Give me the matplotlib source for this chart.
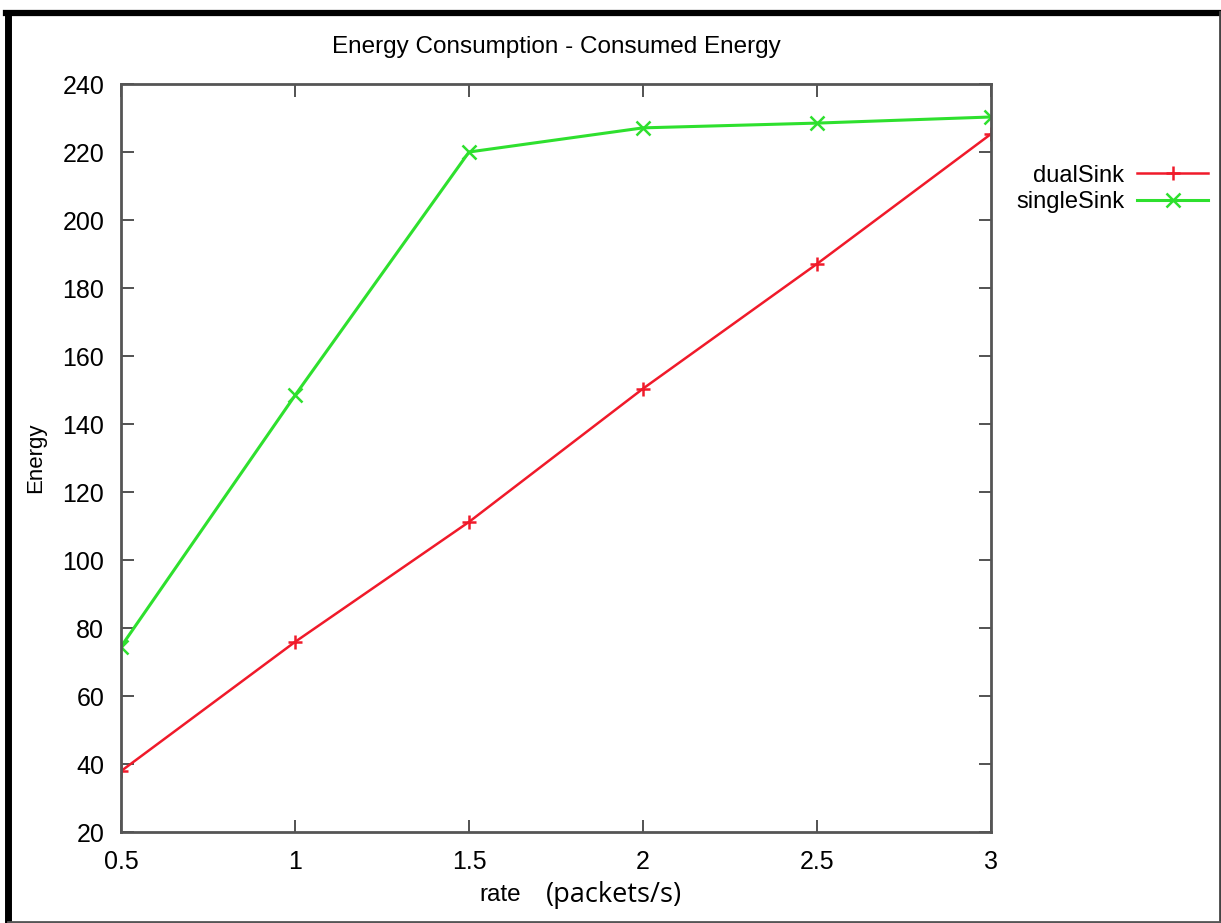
import matplotlib
matplotlib.use("Agg")
from matplotlib import pyplot as plt
from matplotlib.lines import Line2D

plt.rcParams["font.family"] = ["Liberation Sans", "DejaVu Sans"]

rate = [0.5, 1, 1.5, 2, 2.5, 3]
dual_sink = [37.9, 75.9, 111.2, 150.4, 187.1, 225.3]
single_sink = [74.5, 148.4, 220.0, 227.1, 228.5, 230.3]

x_ticks = [0.5, 1, 1.5, 2, 2.5, 3]
x_tick_labels = ["0.5", "1", "1.5", "2", "2.5", "3"]
y_ticks = [20, 40, 60, 80, 100, 120, 140, 160, 180, 200, 220, 240]

W, H = 1221, 923
fig = plt.figure(figsize=(W / 100, H / 100), dpi=100)
ax = fig.add_axes([121 / W, 1 - 832 / H, (991 - 121) / W, (832 - 84) / H])

ax.plot(rate, dual_sink, color="#f01a2a", lw=1.8, marker="+", ms=10, mew=1.8,
        label="dualSink")
ax.plot(rate, single_sink, color="#2ee02e", lw=2.2, marker="x", ms=10, mew=1.8,
        label="singleSink")

ax.set_xlim(0.5, 3)
ax.set_ylim(20, 240)
ax.set_xticks(x_ticks)
ax.set_xticklabels(x_tick_labels)
ax.set_yticks(y_ticks)
ax.tick_params(direction="in", length=9, width=1.3, color="#444444",
               labelsize=18, top=True, right=True)
ax.tick_params(axis="x", pad=13)
ax.tick_params(axis="y", pad=12)
for s in ax.spines.values():
    s.set_color("#555555")
    s.set_linewidth(2)

ax.set_title("Energy Consumption - Consumed Energy", fontsize=17.5, pad=22)
ax.set_ylabel("Energy", fontsize=16, labelpad=12)

# x label: "rate" plus units in a wider face, as in the original screenshot
fig.text(479 / W, 1 - 895 / H, "rate", fontsize=17.5, va="center", ha="left")
fig.text(546 / W, 1 - 895 / H, "(packets/s)", fontsize=19.5, va="center", ha="left",
         family=["Open Sans", "DejaVu Sans"])

ax.legend(loc="upper left", bbox_to_anchor=(1.018, 0.905), frameon=False,
          markerfirst=False, fontsize=17, handlelength=3.0, handletextpad=0.55,
          labelspacing=0.2, borderaxespad=0)

# outer frame of the screenshot
fig.add_artist(Line2D([8 / W, 8 / W], [0, 1 - 12.5 / H], color="black", lw=5,
                      transform=fig.transFigure))
fig.add_artist(Line2D([5.5 / W, 1], [1 - 12.5 / H, 1 - 12.5 / H], color="black",
                      lw=4.5, transform=fig.transFigure))
fig.add_artist(Line2D([1219.5 / W, 1219.5 / W], [0, 1 - 12 / H], color="#444444",
                      lw=2, transform=fig.transFigure))
fig.add_artist(Line2D([8 / W, 1], [1.5 / H, 1.5 / H], color="#555555", lw=2,
                      transform=fig.transFigure))

fig.savefig("out.png", dpi=100, facecolor="white")
